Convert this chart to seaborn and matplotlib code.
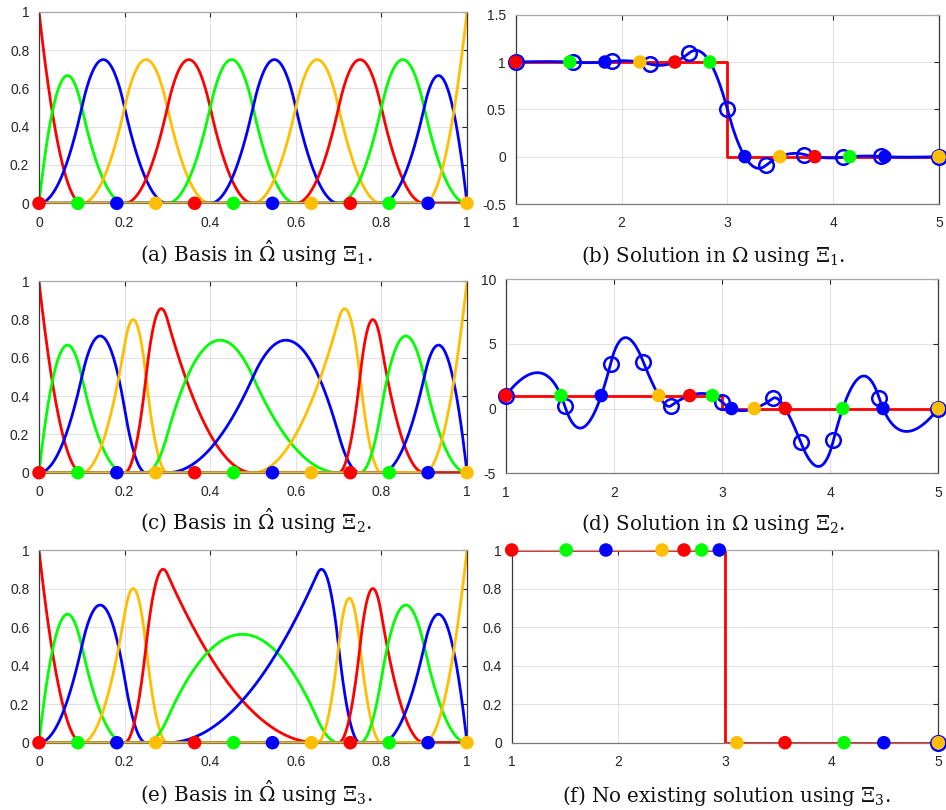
import numpy as np
import pandas as pd
import matplotlib
matplotlib.use("Agg")
import matplotlib.pyplot as plt
import seaborn as sns

# ---------------- data ----------------
degree = 2
xi1 = [0, 0, 0, 0.1, 0.2, 0.3, 0.4, 0.5, 0.6, 0.7, 0.8, 0.9, 1, 1, 1]
xi2 = [0, 0, 0, 0.1, 0.2, 0.25, 0.3, 0.5, 0.7, 0.75, 0.8, 0.9, 1, 1, 1]
xi3 = [0, 0, 0, 0.1, 0.2, 0.25, 0.3, 0.65, 0.7, 0.75, 0.8, 0.9, 1, 1, 1]
# geometry control points of the map from the parameter domain to [1, 5]
geom_ctrl = [1.0, 1.3636, 1.7273, 2.0909, 2.4545, 2.8182, 3.1818, 3.5455,
             3.9091, 4.2727, 4.6364, 5.0]
# interpolation (collocation) points in the parameter domain
interp_pts = [0.0, 0.0909, 0.1818, 0.2727, 0.3636, 0.4545, 0.5455, 0.6364,
              0.7273, 0.8182, 0.9091, 1.0]
# solution coefficients of the interpolants (Xi_3: none exists)
coef1 = [1.0000, 1.0109, 0.9847, 1.0291, 0.9253, 1.2606, -0.2606, 0.0747,
         -0.0291, 0.0153, -0.0109, 0.0000]
coef2 = [1.0000, 4.8910, -4.4492, 7.4197, -0.2309, 1.9655, -0.9655, 1.2309,
         -6.4197, 5.4492, -3.8910, 0.0000]
# exact step solution
step_x = [1, 3, 3, 5]
step_y = [1, 1, 0, 0]
step_at = 3.0
f_circle_x = [5.0]
f_circle_y = [0.0]

cycle = ["red", "green", "blue", "yellow"]
palette = {"red": "#ff0000", "green": "#00ff00", "blue": "#0000ff", "yellow": "#ffbf00"}

basis_ticks = [0, 0.2, 0.4, 0.6, 0.8, 1]
basis_ticklabels = ["0", "0.2", "0.4", "0.6", "0.8", "1"]
dom_ticks = [1, 2, 3, 4, 5]
dom_ticklabels = ["1", "2", "3", "4", "5"]
b_yticks = [-0.5, 0, 0.5, 1, 1.5]
b_yticklabels = ["-0.5", "0", "0.5", "1", "1.5"]
d_yticks = [-5, 0, 5, 10]
d_yticklabels = ["-5", "0", "5", "10"]

captions = [
    r"(a) Basis in $\hat{\Omega}$ using $\Xi_1$.",
    r"(b) Solution in $\Omega$ using $\Xi_1$.",
    r"(c) Basis in $\hat{\Omega}$ using $\Xi_2$.",
    r"(d) Solution in $\Omega$ using $\Xi_2$.",
    r"(e) Basis in $\hat{\Omega}$ using $\Xi_3$.",
    r"(f) No existing solution using $\Xi_3$.",
]


def basis(knots, p, x):
    t = np.asarray(knots, float)
    x = np.atleast_1d(np.asarray(x, float))
    m = len(t) - 1
    B = np.zeros((len(x), m))
    for i in range(m):
        if t[i] < t[i + 1]:
            B[:, i] = (x >= t[i]) & (x < t[i + 1])
    last = max(i for i in range(m) if t[i] < t[i + 1])
    B[x >= t[-1], last] = 1.0
    for k in range(1, p + 1):
        Bn = np.zeros((len(x), m - k))
        for i in range(m - k):
            d1 = t[i + k] - t[i]
            d2 = t[i + k + 1] - t[i + 1]
            a = (x - t[i]) / d1 * B[:, i] if d1 > 0 else 0.0
            b = (t[i + k + 1] - x) / d2 * B[:, i + 1] if d2 > 0 else 0.0
            Bn[:, i] = a + b
        B = Bn
    return B


# ---------------- style ----------------
sns.set_theme(style="white")
plt.rcParams["font.family"] = ["Liberation Sans", "DejaVu Sans"]
plt.rcParams["mathtext.fontset"] = "dejavuserif"

W, H = 946, 810
fig = plt.figure(figsize=(W / 100, H / 100), dpi=100)
fig.patch.set_facecolor("white")


def add_axes(left, right, top, bottom):
    return fig.add_axes([left / W, 1 - bottom / H, (right - left) / W, (bottom - top) / H])


def style(ax, xlim, ylim, xt, xtl, yt, ytl):
    ax.set_xlim(*xlim)
    ax.set_ylim(*ylim)
    ax.set_xticks(xt)
    ax.set_xticklabels(xtl)
    ax.set_yticks(yt)
    ax.set_yticklabels(ytl)
    ax.set_xlabel("")
    ax.set_ylabel("")
    ax.grid(True, color="#e2e2e2", linewidth=0.8)
    ax.set_axisbelow(True)
    ax.tick_params(axis="both", direction="in", length=3.5, width=0.8,
                   top=True, right=True, labelsize=10, colors="#262626")
    ax.tick_params(axis="x", pad=9)
    ax.tick_params(axis="y", pad=7)
    ax.set_facecolor("white")
    for side, col in [("left", "#3a3a3a"), ("right", "#3a3a3a"),
                      ("bottom", "#7a7a7a"), ("top", "#a8a8a8")]:
        ax.spines[side].set_visible(True)
        ax.spines[side].set_color(col)
        ax.spines[side].set_linewidth(0.9)


def draw_basis(ax, knots):
    s = np.linspace(0, 1, 1201)
    B = basis(knots, degree, s)
    for j in range(B.shape[1]):
        sns.lineplot(x=s, y=B[:, j], ax=ax, color=palette[cycle[j % 4]],
                     linewidth=2.0, sort=False, estimator=None, zorder=2)
    df = pd.DataFrame({"x": interp_pts, "y": np.zeros(len(interp_pts)),
                       "c": [cycle[i % 4] for i in range(len(interp_pts))]})
    sns.scatterplot(data=df, x="x", y="y", hue="c", palette=palette, s=95,
                    linewidth=0, legend=False, ax=ax, zorder=5, clip_on=False)
    style(ax, (0, 1), (0, 1), basis_ticks, basis_ticklabels,
          basis_ticks, basis_ticklabels)


def draw_solution(ax, knots, coef, ylim, yt, ytl, circ=None):
    sns.lineplot(x=step_x, y=step_y, ax=ax, color=palette["red"], linewidth=2.0,
                 sort=False, estimator=None, zorder=2)
    gx = np.array(geom_ctrl)
    if coef is not None:
        s = np.linspace(0, 1, 1201)
        Bf = basis(knots, degree, s)
        sns.lineplot(x=Bf @ gx, y=Bf @ np.array(coef), ax=ax, color=palette["blue"],
                     linewidth=2.0, sort=False, estimator=None, zorder=3)
        ub = np.unique(knots)
        Bb = basis(knots, degree, ub)
        cx, cy = Bb @ gx, Bb @ np.array(coef)
    else:
        cx, cy = np.array(circ[0]), np.array(circ[1])
    sns.lineplot(x=cx, y=cy, ax=ax, linestyle="", marker="o", markersize=10.5,
                 markerfacecolor="none", markeredgecolor=palette["blue"],
                 markeredgewidth=1.8, sort=False, estimator=None, zorder=4,
                 clip_on=False)
    Bi = basis(knots, degree, interp_pts)
    px = Bi @ gx
    py = np.where(px < step_at, step_y[0], step_y[-1]).astype(float)
    df = pd.DataFrame({"x": px, "y": py,
                       "c": [cycle[i % 4] for i in range(len(px))]})
    sns.scatterplot(data=df, x="x", y="y", hue="c", palette=palette, s=95,
                    linewidth=0, legend=False, ax=ax, zorder=5, clip_on=False)
    style(ax, (1, 5), ylim, dom_ticks, dom_ticklabels, yt, ytl)


ax_a = add_axes(39, 467, 11.7, 203.3)
ax_b = add_axes(515.7, 939, 14.7, 204)
ax_c = add_axes(39, 467, 281.3, 472.7)
ax_d = add_axes(505.7, 938.3, 279, 473.3)
ax_e = add_axes(39, 467, 550, 742.7)
ax_f = add_axes(511.7, 938.3, 550, 742.7)

draw_basis(ax_a, xi1)
draw_basis(ax_c, xi2)
draw_basis(ax_e, xi3)
draw_solution(ax_b, xi1, coef1, (-0.5, 1.5), b_yticks, b_yticklabels)
draw_solution(ax_d, xi2, coef2, (-5, 10), d_yticks, d_yticklabels)
draw_solution(ax_f, xi3, None, (0, 1), basis_ticks, basis_ticklabels,
              circ=(f_circle_x, f_circle_y))

cap_pos = [(256, 262), (713, 262), (256, 530), (713, 530), (256, 802), (726, 802)]
for (cx, cy), txt in zip(cap_pos, captions):
    fig.text(cx / W, 1 - cy / H, txt, ha="center", va="baseline",
             fontsize=14.3, family="DejaVu Serif", color="#111111")

fig.savefig("out.png", dpi=100, facecolor="white")
